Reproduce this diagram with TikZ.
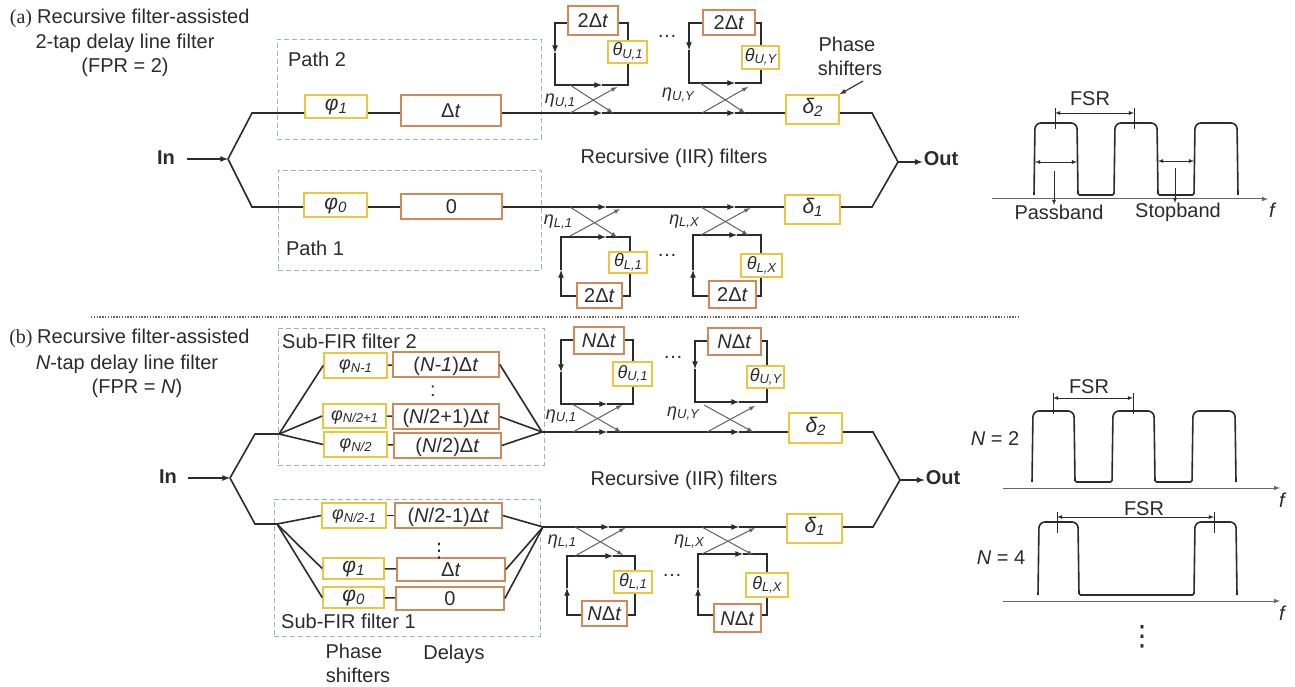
\documentclass[tikz,border=0pt]{standalone}
\usepackage{fontspec}
\setmainfont{Liberation Sans}
\newfontfamily\partfont{Liberation Serif}
\newfontfamily\dotfont{DejaVu Sans}
\newcommand{\subtxt}[1]{\raisebox{-2.5pt}{\fontsize{13}{13}\selectfont\itshape #1}}
\newcommand{\subbig}[1]{\raisebox{-3pt}{\fontsize{15}{15}\selectfont\itshape #1}}
\definecolor{inkc}{HTML}{2B2B2B}
\definecolor{yellowc}{HTML}{E9C83F}
\definecolor{orangec}{HTML}{D0895A}
\definecolor{dashc}{HTML}{9FB0BA}
\tikzset{
  >=latex,
  lbl/.style={inner sep=0pt,text height=14pt,text depth=0pt,text=inkc,font=\fontsize{20}{22}\selectfont},
  inout/.style={lbl,font=\fontsize{20}{22}\selectfont\bfseries},
  gk/.style={lbl,font=\fontsize{18}{18}\selectfont\itshape},
  gkbig/.style={font=\fontsize{21}{21}\selectfont\itshape},
  phasebox/.style={gk,draw=yellowc,line width=1.6pt,text height=11pt,text depth=3pt},
  delaybox/.style={lbl,draw=orangec,line width=1.6pt},
  pathbox/.style={draw=dashc,line width=0.9pt,dash pattern=on 5pt off 3pt,inner sep=0pt},
  wire/.style={draw=inkc,line width=1.6pt},
  cross/.style={draw=black!62,line width=1pt},
  trace/.style={draw=inkc,line width=1.6pt},
  thin axis/.style={draw=black!60,line width=1pt},
  dimline/.style={draw=inkc,line width=0.8pt}
}
\begin{document}
\begin{tikzpicture}[x=1pt,y=-1pt]
\useasboundingbox (0,0) rectangle (1295,687);
% panel (a)
\node[lbl,font=\fontsize{20}{22}\selectfont\partfont] (partA) at (21,17) {(a)};
\node[lbl,anchor=west] (titleAa) at (37,17) {Recursive filter-assisted};
\node[lbl] (titleAb) at (125,42) {2-tap delay line filter};
\node[lbl] (titleAc) at (125,66) {(FPR = 2)};
\node[pathbox,minimum width=264,minimum height=100] (pathUA) at (409,89) {};
\node[pathbox,minimum width=263,minimum height=100] (pathLA) at (409.5,220) {};
\node[lbl] (pathUAtxt) at (317,60) {Path 2};
\node[lbl] (pathLAtxt) at (315,248) {Path 1};
\node[inout,inner xsep=12pt] (inA) at (166,158) {In};
\node[inout,inner xsep=1pt] (outA) at (941,159) {Out};
\node[phasebox,gkbig,minimum width=62,minimum height=23] (phiUA) at (336,106.5) {φ\subbig{1}};
\node[phasebox,gkbig,minimum width=63,minimum height=24] (phiLA) at (335.5,205) {φ\subbig{0}};
\node[delaybox,minimum width=100,minimum height=31] (delayUA) at (451,110.5) {Δ\textit{t}};
\node[delaybox,minimum width=101,minimum height=25] (delayLA) at (451.5,206.5) {0};
\node[phasebox,gkbig,minimum width=53,minimum height=29] (deltaUA) at (812.5,109.5) {δ\subbig{2}};
\node[phasebox,gkbig,minimum width=55,minimum height=29] (deltaLA) at (812.5,209.5) {δ\subbig{1}};
\coordinate (splitA) at (228,159);
\coordinate (bendUA) at (252,113);
\coordinate (bendLA) at (252,207);
\coordinate (joinUA) at (872,113);
\coordinate (joinLA) at (872,207);
\coordinate (mergeA) at (898,162);
\coordinate (mainUAa) at (602,113);
\coordinate (mainUAb) at (735,113);
\coordinate (mainLAa) at (606,207);
\coordinate (mainLAb) at (735,207);
\draw[wire,->] (inA.east |- splitA) -- (splitA);
\draw[wire] (splitA) -- (bendUA) -- (phiUA.west |- bendUA);
\draw[wire] (splitA) -- (bendLA) -- (phiLA.west |- bendLA);
\draw[wire] (phiUA.east |- bendUA) -- (delayUA.west |- bendUA);
\draw[wire] (phiLA.east |- bendLA) -- (delayLA.west |- bendLA);
\draw[wire,->] (delayUA.east |- bendUA) -- (mainUAa);
\draw[wire,->] (mainUAa) -- (mainUAb);
\draw[wire] (mainUAb) -- (deltaUA.west |- bendUA);
\draw[wire,->] (delayLA.east |- bendLA) -- (mainLAa);
\draw[wire,->] (mainLAa) -- (mainLAb);
\draw[wire] (mainLAb) -- (deltaLA.west |- bendLA);
\draw[wire] (deltaUA.east |- bendUA) -- (joinUA) -- (mergeA);
\draw[wire] (deltaLA.east |- bendLA) -- (joinLA) -- (mergeA);
\draw[wire,->] (mergeA) -- (outA.west |- mergeA);
\node[lbl] (iirA) at (674,157) {Recursive (IIR) filters};
\node[lbl] (shiftAa) at (847,45) {Phase};
\node[lbl] (shiftAb) at (850,69) {shifters};
\coordinate (shiftAc) at (863,81);
\draw[dimline,->,line width=1.1pt] (shiftAc) -- (deltaUA.north east);
% upper rings of (a)
\node[delaybox,minimum width=50,minimum height=29] (delayUA1) at (593,20.5) {2Δ\textit{t}};
\node[phasebox,minimum width=39,minimum height=22] (thetaUA1) at (627.5,52) {θ\subtxt{U,1}};
\coordinate (tlUA1) at (555,23);
\coordinate (brUA1) at (628,85);
\coordinate (lmUA1) at (555,53);
\coordinate (bmUA1) at (602,85);
\draw[wire,->] (delayUA1.west |- tlUA1) -- (tlUA1) -- (lmUA1);
\draw[wire,->] (lmUA1) -- (lmUA1 |- bmUA1) -- (bmUA1);
\draw[wire] (bmUA1) -- (brUA1) -- (brUA1 |- thetaUA1.south);
\draw[wire] (brUA1 |- thetaUA1.north) -- (brUA1 |- tlUA1) -- (delayUA1.east |- tlUA1);
\coordinate (xaUA1) at (570,85);
\coordinate (xbUA1) at (613,113);
\coordinate (xcUA1) at (570,113);
\coordinate (xdUA1) at (617,87);
\draw[cross,->] (xaUA1) -- (xbUA1);
\draw[cross,->] (xcUA1) -- (xdUA1);
\node[gk] (etaUA1) at (560,97) {η\subtxt{U,1}};
\node[lbl] (dotsUA) at (667,31) {…};
\node[delaybox,minimum width=52,minimum height=25] (delayUAY) at (729,22.5) {2Δ\textit{t}};
\node[phasebox,minimum width=37,minimum height=23] (thetaUAY) at (760.5,57.5) {θ\subtxt{U,Y}};
\coordinate (tlUAY) at (689,23);
\coordinate (brUAY) at (761,83);
\coordinate (lmUAY) at (689,50);
\coordinate (bmUAY) at (735,83);
\draw[wire,->] (delayUAY.west |- tlUAY) -- (tlUAY) -- (lmUAY);
\draw[wire,->] (lmUAY) -- (lmUAY |- bmUAY) -- (bmUAY);
\draw[wire] (bmUAY) -- (brUAY) -- (brUAY |- thetaUAY.south);
\draw[wire] (brUAY |- thetaUAY.north) -- (brUAY |- tlUAY) -- (delayUAY.east |- tlUAY);
\coordinate (xaUAY) at (700,83);
\coordinate (xbUAY) at (745,113);
\coordinate (xcUAY) at (702,113);
\coordinate (xdUAY) at (748,87);
\draw[cross,->] (xaUAY) -- (xbUAY);
\draw[cross,->] (xcUAY) -- (xdUAY);
\node[gk] (etaUAY) at (678,91) {η\subtxt{U,Y}};
% lower rings of (a)
\node[delaybox,minimum width=45,minimum height=25] (delayLA1) at (599.5,295.5) {2Δ\textit{t}};
\node[phasebox,minimum width=38,minimum height=21] (thetaLA1) at (628,262.5) {θ\subtxt{L,1}};
\coordinate (tlLA1) at (561,237);
\coordinate (brLA1) at (630,296);
\coordinate (lmLA1) at (561,270);
\coordinate (tmLA1) at (606,237);
\draw[wire,->] (delayLA1.west |- brLA1) -- (tlLA1 |- brLA1) -- (lmLA1);
\draw[wire,->] (lmLA1) -- (tlLA1) -- (tmLA1);
\draw[wire] (tmLA1) -- (brLA1 |- tlLA1) -- (brLA1 |- thetaLA1.north);
\draw[wire] (brLA1 |- thetaLA1.south) -- (brLA1) -- (delayLA1.east |- brLA1);
\coordinate (xaLA1) at (570,236);
\coordinate (xbLA1) at (620,209);
\coordinate (xcLA1) at (570,207);
\coordinate (xdLA1) at (617,237);
\draw[cross,->] (xaLA1) -- (xbLA1);
\draw[cross,->] (xcLA1) -- (xdLA1);
\node[gk] (etaLA1) at (558,218) {η\subtxt{L,1}};
\node[lbl] (dotsLA) at (667,249) {…};
\node[delaybox,minimum width=47,minimum height=27] (delayLAX) at (732.5,294.5) {2Δ\textit{t}};
\node[phasebox,minimum width=41,minimum height=23] (thetaLAX) at (761.5,265.5) {θ\subtxt{L,X}};
\coordinate (tlLAX) at (693,235);
\coordinate (brLAX) at (761,296);
\coordinate (lmLAX) at (693,270);
\coordinate (tmLAX) at (737,235);
\draw[wire,->] (delayLAX.west |- brLAX) -- (tlLAX |- brLAX) -- (lmLAX);
\draw[wire,->] (lmLAX) -- (tlLAX) -- (tmLAX);
\draw[wire] (tmLAX) -- (brLAX |- tlLAX) -- (brLAX |- thetaLAX.north);
\draw[wire] (brLAX |- thetaLAX.south) -- (brLAX) -- (delayLAX.east |- brLAX);
\coordinate (xaLAX) at (701,235);
\coordinate (xbLAX) at (750,208);
\coordinate (xcLAX) at (701,207);
\coordinate (xdLAX) at (748,235);
\draw[cross,->] (xaLAX) -- (xbLAX);
\draw[cross,->] (xcLAX) -- (xdLAX);
\node[gk] (etaLAX) at (684,217) {η\subtxt{L,X}};
% spectrum of (a)
\draw[trace,rounded corners=6] (1034,195) -- (1035,123) -- (1077,123) [rounded corners=1.5] -- (1078,195) -- (1114,195) [rounded corners=6] -- (1115,123) -- (1157,123) [rounded corners=1.5] -- (1158,195) -- (1194,195) [rounded corners=6] -- (1195,123) -- (1237,123) -- (1238,195);
\coordinate (axisAl) at (992,199);
\coordinate (axisAr) at (1268,199);
\draw[thin axis,->] (axisAl) -- (axisAr);
\node[gk,font=\fontsize{20}{22}\selectfont\itshape] (freqA) at (1272,210) {f};
\coordinate (fsrAl) at (1055,113);
\coordinate (fsrAr) at (1134,113);
\draw[dimline,<->] (fsrAl) -- (fsrAr);
\draw[dimline] (1055,108) -- (1055,129);
\draw[dimline] (1134,108) -- (1134,129);
\node[lbl] (fsrAtxt) at (1090,99) {FSR};
\coordinate (passAl) at (1035,162);
\coordinate (passAr) at (1077,162);
\coordinate (passAt) at (1054,171);
\coordinate (passAb) at (1054,205);
\draw[dimline,<->] (passAl) -- (passAr);
\draw[dimline,->] (passAt) -- (passAb);
\coordinate (stopAl) at (1158,161);
\coordinate (stopAr) at (1194,161);
\coordinate (stopAt) at (1175,168);
\coordinate (stopAb) at (1175,203);
\draw[dimline,<->] (stopAl) -- (stopAr);
\draw[dimline,->] (stopAt) -- (stopAb);
\node[lbl] (passAtxt) at (1059,212) {Passband};
\node[lbl] (stopAtxt) at (1178,211) {Stopband};
% separator
\coordinate (sepl) at (91,317);
\coordinate (sepr) at (1018,317);
\draw[draw=black!60,line width=1.1pt,dash pattern=on 1.3pt off 1.5pt] (sepl) -- (sepr);
% panel (b)
\node[lbl,font=\fontsize{20}{22}\selectfont\partfont] (partB) at (21,336) {(b)};
\node[lbl,anchor=west] (titleBa) at (37,336) {Recursive filter-assisted};
\node[lbl] (titleBb) at (127,362) {\textit{N}-tap delay line filter};
\node[lbl] (titleBc) at (137,386) {(FPR = \textit{N})};
\node[pathbox,minimum width=266,minimum height=137] (pathUB) at (411,396.5) {};
\node[pathbox,minimum width=266,minimum height=137] (pathLB) at (407,567.5) {};
\node[lbl,anchor=west] (pathUBtxt) at (282,341) {Sub-FIR filter 2};
\node[lbl,anchor=west] (pathLBtxt) at (281,621) {Sub-FIR filter 1};
\node[inout,inner xsep=11pt] (inB) at (168,476) {In};
\node[inout,inner xsep=1pt] (outB) at (943,477) {Out};
\node[phasebox,minimum width=63,minimum height=25] (phiBa) at (355.5,365.5) {φ\subtxt{N-1}};
\node[phasebox,minimum width=63,minimum height=24] (phiBb) at (354.5,416) {φ\subtxt{N/2+1}};
\node[phasebox,minimum width=63,minimum height=25] (phiBc) at (355.5,444.5) {φ\subtxt{N/2}};
\node[phasebox,minimum width=64,minimum height=25] (phiBd) at (354,515.5) {φ\subtxt{N/2-1}};
\node[phasebox,gkbig,minimum width=61,minimum height=21] (phiBe) at (353.5,568.5) {φ\subbig{1}};
\node[phasebox,gkbig,minimum width=61,minimum height=21] (phiBf) at (353.5,597.5) {φ\subbig{0}};
\node[delaybox,minimum width=106,minimum height=25] (delayBa) at (446,364.5) {(\textit{N-1})Δ\textit{t}};
\node[delaybox,minimum width=106,minimum height=25] (delayBb) at (446,416.5) {(\textit{N}/2+1)Δ\textit{t}};
\node[delaybox,minimum width=107,minimum height=25] (delayBc) at (447.5,445.5) {(\textit{N}/2)Δ\textit{t}};
\node[delaybox,minimum width=107,minimum height=25] (delayBd) at (448.5,515.5) {(\textit{N}/2-1)Δ\textit{t}};
\node[delaybox,minimum width=108,minimum height=23] (delayBe) at (451,569.5) {Δ\textit{t}};
\node[delaybox,minimum width=108,minimum height=23] (delayBf) at (450,598.5) {0};
\node[phasebox,gkbig,minimum width=53,minimum height=30] (deltaUB) at (815.5,428) {δ\subbig{2}};
\node[phasebox,gkbig,minimum width=55,minimum height=29] (deltaLB) at (814.5,528.5) {δ\subbig{1}};
\coordinate (splitB) at (230,478);
\coordinate (bendUB) at (255,434);
\coordinate (bendLB) at (255,524);
\coordinate (fanUB) at (279,434);
\coordinate (fanLB) at (277,524);
\coordinate (mergeUB) at (542,432);
\coordinate (mergeLB) at (543,527);
\coordinate (joinUB) at (873,432);
\coordinate (joinLB) at (873,527);
\coordinate (mergeB) at (900,480);
\coordinate (mainUBa) at (607,432);
\coordinate (mainUBb) at (739,432);
\coordinate (mainLBa) at (609,527);
\coordinate (mainLBb) at (739,527);
\draw[wire,->] (inB.east |- splitB) -- (splitB);
\draw[wire] (splitB) -- (bendUB) -- (fanUB);
\draw[wire] (splitB) -- (bendLB) -- (fanLB);
\draw[wire] (fanUB) -- (phiBa.west);
\draw[wire] (fanUB) -- (phiBb.west);
\draw[wire] (fanUB) -- (phiBc.west);
\draw[wire] (fanLB) -- (phiBd.west);
\draw[wire] (fanLB) -- (phiBe.west);
\draw[wire] (fanLB) -- (phiBf.west);
\draw[wire] (phiBa) -- (delayBa);
\draw[wire] (phiBb) -- (delayBb);
\draw[wire] (phiBc) -- (delayBc);
\draw[wire] (phiBd) -- (delayBd);
\draw[wire] (phiBe) -- (delayBe);
\draw[wire] (phiBf) -- (delayBf);
\draw[wire] (delayBa.east) -- (mergeUB);
\draw[wire] (delayBb.east) -- (mergeUB);
\draw[wire] (delayBc.east) -- (mergeUB);
\draw[wire] (delayBd.east) -- (mergeLB);
\draw[wire] (delayBe.east) -- (mergeLB);
\draw[wire] (delayBf.east) -- (mergeLB);
\draw[wire,->] (mergeUB) -- (mainUBa);
\draw[wire,->] (mainUBa) -- (mainUBb);
\draw[wire] (mainUBb) -- (deltaUB.west |- mergeUB);
\draw[wire,->] (mergeLB) -- (mainLBa);
\draw[wire,->] (mainLBa) -- (mainLBb);
\draw[wire] (mainLBb) -- (deltaLB.west |- mergeLB);
\draw[wire] (deltaUB.east |- mergeUB) -- (joinUB) -- (mergeB);
\draw[wire] (deltaLB.east |- mergeLB) -- (joinLB) -- (mergeB);
\draw[wire,->] (mergeB) -- (outB.west |- mergeB);
\node[lbl] (iirB) at (684,478) {Recursive (IIR) filters};
\node[lbl] (vdotsBa) at (433,389) {:};
\node[lbl,font=\fontsize{20}{22}\selectfont\dotfont] (vdotsBb) at (439,550) {⋮};
\node[lbl] (shiftBa) at (354,651) {Phase};
\node[lbl] (shiftBb) at (358,675) {shifters};
\node[lbl] (delaysB) at (454,652) {Delays};
% upper rings of (b)
\node[delaybox,minimum width=50,minimum height=27] (delayUB1) at (599,340.5) {\textit{N}Δ\textit{t}};
\node[phasebox,minimum width=39,minimum height=24] (thetaUB1) at (632.5,374) {θ\subtxt{U,1}};
\coordinate (tlUB1) at (561,340);
\coordinate (brUB1) at (633,404);
\coordinate (lmUB1) at (561,372);
\coordinate (bmUB1) at (607,404);
\draw[wire,->] (delayUB1.west |- tlUB1) -- (tlUB1) -- (lmUB1);
\draw[wire,->] (lmUB1) -- (lmUB1 |- bmUB1) -- (bmUB1);
\draw[wire] (bmUB1) -- (brUB1) -- (brUB1 |- thetaUB1.south);
\draw[wire] (brUB1 |- thetaUB1.north) -- (brUB1 |- tlUB1) -- (delayUB1.east |- tlUB1);
\coordinate (xaUB1) at (572,404);
\coordinate (xbUB1) at (621,432);
\coordinate (xcUB1) at (573,432);
\coordinate (xdUB1) at (622,405);
\draw[cross,->] (xaUB1) -- (xbUB1);
\draw[cross,->] (xcUB1) -- (xdUB1);
\node[gk] (etaUB1) at (561,412) {η\subtxt{U,1}};
\node[lbl] (dotsUB) at (673,351) {…};
\node[delaybox,minimum width=53,minimum height=27] (delayUBY) at (734.5,341.5) {\textit{N}Δ\textit{t}};
\node[phasebox,minimum width=37,minimum height=22] (thetaUBY) at (765.5,377) {θ\subtxt{U,Y}};
\coordinate (tlUBY) at (695,341);
\coordinate (brUBY) at (767,402);
\coordinate (lmUBY) at (695,369);
\coordinate (bmUBY) at (739,402);
\draw[wire,->] (delayUBY.west |- tlUBY) -- (tlUBY) -- (lmUBY);
\draw[wire,->] (lmUBY) -- (lmUBY |- bmUBY) -- (bmUBY);
\draw[wire] (bmUBY) -- (brUBY) -- (brUBY |- thetaUBY.south);
\draw[wire] (brUBY |- thetaUBY.north) -- (brUBY |- tlUBY) -- (delayUBY.east |- tlUBY);
\coordinate (xaUBY) at (704,405);
\coordinate (xbUBY) at (753,432);
\coordinate (xcUBY) at (707,432);
\coordinate (xdUBY) at (755,406);
\draw[cross,->] (xaUBY) -- (xbUBY);
\draw[cross,->] (xcUBY) -- (xdUBY);
\node[gk] (etaUBY) at (683,409) {η\subtxt{U,Y}};
% lower rings of (b)
\node[delaybox,minimum width=45,minimum height=25] (delayLB1) at (604.5,613.5) {\textit{N}Δ\textit{t}};
\node[phasebox,minimum width=38,minimum height=22] (thetaLB1) at (633,582) {θ\subtxt{L,1}};
\coordinate (tlLB1) at (567,556);
\coordinate (brLB1) at (635,615);
\coordinate (lmLB1) at (567,588);
\coordinate (tmLB1) at (613,556);
\draw[wire,->] (delayLB1.west |- brLB1) -- (tlLB1 |- brLB1) -- (lmLB1);
\draw[wire,->] (lmLB1) -- (tlLB1) -- (tmLB1);
\draw[wire] (tmLB1) -- (brLB1 |- tlLB1) -- (brLB1 |- thetaLB1.north);
\draw[wire] (brLB1 |- thetaLB1.south) -- (brLB1) -- (delayLB1.east |- brLB1);
\coordinate (xaLB1) at (575,556);
\coordinate (xbLB1) at (625,528);
\coordinate (xcLB1) at (575,527);
\coordinate (xdLB1) at (623,555);
\draw[cross,->] (xaLB1) -- (xbLB1);
\draw[cross,->] (xcLB1) -- (xdLB1);
\node[gk] (etaLB1) at (562,537) {η\subtxt{L,1}};
\node[lbl] (dotsLB) at (672,569) {…};
\node[delaybox,minimum width=47,minimum height=28] (delayLBX) at (737.5,618) {\textit{N}Δ\textit{t}};
\node[phasebox,minimum width=42,minimum height=24] (thetaLBX) at (767,585) {θ\subtxt{L,X}};
\coordinate (tlLBX) at (698,554);
\coordinate (brLBX) at (767,615);
\coordinate (lmLBX) at (698,588);
\coordinate (tmLBX) at (743,554);
\draw[wire,->] (delayLBX.west |- brLBX) -- (tlLBX |- brLBX) -- (lmLBX);
\draw[wire,->] (lmLBX) -- (tlLBX) -- (tmLBX);
\draw[wire] (tmLBX) -- (brLBX |- tlLBX) -- (brLBX |- thetaLBX.north);
\draw[wire] (brLBX |- thetaLBX.south) -- (brLBX) -- (delayLBX.east |- brLBX);
\coordinate (xaLBX) at (702,554);
\coordinate (xbLBX) at (755,528);
\coordinate (xcLBX) at (702,527);
\coordinate (xdLBX) at (753,555);
\draw[cross,->] (xaLBX) -- (xbLBX);
\draw[cross,->] (xcLBX) -- (xdLBX);
\node[gk] (etaLBX) at (689,537) {η\subtxt{L,X}};
% spectra of (b)
\draw[trace,rounded corners=6] (1032,482) -- (1033,411) -- (1074,411) [rounded corners=1.5] -- (1075,482) -- (1112,482) [rounded corners=6] -- (1113,411) -- (1154,411) [rounded corners=1.5] -- (1155,482) -- (1192,482) [rounded corners=6] -- (1193,411) -- (1235,411) -- (1236,482);
\coordinate (axisBl) at (1003,488);
\coordinate (axisBr) at (1280,488);
\draw[thin axis,->] (axisBl) -- (axisBr);
\node[gk,font=\fontsize{20}{22}\selectfont\itshape] (freqB) at (1282,500) {f};
\coordinate (fsrBl) at (1053,398);
\coordinate (fsrBr) at (1133,398);
\draw[dimline,<->] (fsrBl) -- (fsrBr);
\draw[dimline] (1053,393) -- (1053,414);
\draw[dimline] (1133,393) -- (1133,414);
\node[lbl] (fsrBtxt) at (1089,386) {FSR};
\node[lbl] (tapsBa) at (995,438) {\textit{N} = 2};
\draw[trace,rounded corners=6] (1038,595) -- (1039,522) -- (1078,522) [rounded corners=1.5] -- (1079,595) -- (1194,595) [rounded corners=6] -- (1195,522) -- (1236,522) -- (1237,595);
\coordinate (axisCl) at (1003,601);
\coordinate (axisCr) at (1280,601);
\draw[thin axis,->] (axisCl) -- (axisCr);
\node[gk,font=\fontsize{20}{22}\selectfont\itshape] (freqC) at (1282,613) {f};
\coordinate (fsrCl) at (1057,517);
\coordinate (fsrCr) at (1214,517);
\draw[dimline,<->] (fsrCl) -- (fsrCr);
\draw[dimline] (1057,512) -- (1057,533);
\draw[dimline] (1214,512) -- (1214,533);
\node[lbl] (fsrCtxt) at (1144,508) {FSR};
\node[lbl] (tapsBb) at (1001,557) {\textit{N} = 4};
\node[lbl,font=\fontsize{28}{28}\selectfont\dotfont] (vdotsC) at (1142,638) {⋮};
\end{tikzpicture}
\end{document}
